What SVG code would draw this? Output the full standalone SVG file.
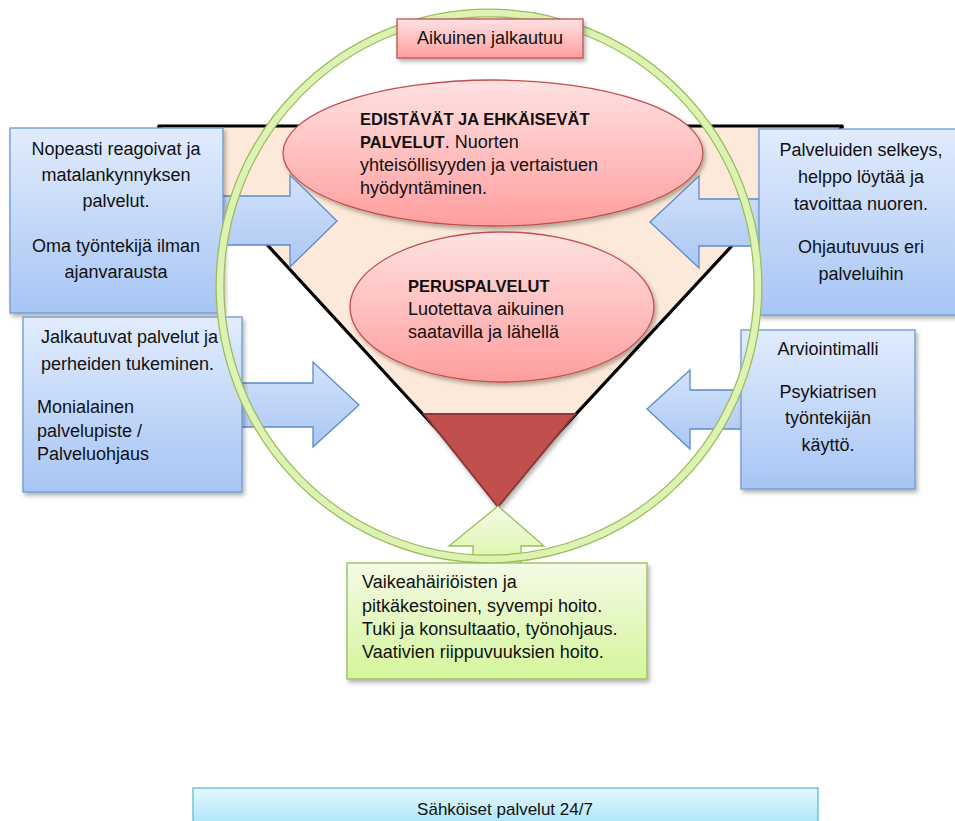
<svg xmlns="http://www.w3.org/2000/svg" width="955" height="821" viewBox="0 0 955 821">
<defs>
<linearGradient id="gBlue" x1="0" y1="0" x2="0" y2="1"><stop offset="0" stop-color="#e1ecfd"/><stop offset="1" stop-color="#a7c5f4"/></linearGradient>
<linearGradient id="gArrow" x1="0" y1="0" x2="0" y2="1"><stop offset="0" stop-color="#d3e2fb"/><stop offset="1" stop-color="#abc7f3"/></linearGradient>
<linearGradient id="gPink" x1="0" y1="0" x2="0" y2="1"><stop offset="0" stop-color="#ffe2e2"/><stop offset="1" stop-color="#ff9e9e"/></linearGradient>
<linearGradient id="gGreen" x1="0" y1="0" x2="0" y2="1"><stop offset="0" stop-color="#f4fbe6"/><stop offset="1" stop-color="#d4f59c"/></linearGradient>
<linearGradient id="gCyan" x1="0" y1="0" x2="0" y2="1"><stop offset="0" stop-color="#e6f8fe"/><stop offset="1" stop-color="#a6e3f8"/></linearGradient>
<filter id="sh" x="-10%" y="-10%" width="130%" height="130%"><feDropShadow dx="2" dy="3" stdDeviation="2" flood-color="#000" flood-opacity="0.3"/></filter>
</defs>
<style>
text{font-family:"Liberation Sans",Arial,sans-serif;font-size:18px;fill:#111}
.c{text-anchor:middle}
.b{font-weight:bold;font-size:16.5px}
.box{fill:url(#gBlue);stroke:#6f98cf;stroke-width:1.3}
.arr{fill:url(#gArrow);stroke:#5b8bc8;stroke-width:1.3}
.ell{fill:url(#gPink);stroke:#c0504d;stroke-width:1.3}
.grn{fill:url(#gGreen);stroke:#9bbb59;stroke-width:1.3}
</style>
<rect width="955" height="821" fill="#fff"/>
<g id="pyramid">
<polygon points="158,126 843,126 499,497" fill="#fde9d9" stroke="#000" stroke-width="3.2" stroke-linejoin="bevel"/>
<polygon points="424,414 575,414 498,507" fill="#c0504d" stroke="#8c3836" stroke-width="2" filter="url(#sh)"/>
</g>
<g id="ellipse-edistavat">
<ellipse cx="493" cy="153" rx="210" ry="73" class="ell" filter="url(#sh)"/>
<text x="360" y="125" class="b">EDISTÄVÄT JA EHKÄISEVÄT</text>
<text x="360" y="148"><tspan class="b">PALVELUT</tspan>. Nuorten</text>
<text x="360" y="171">yhteisöllisyyden ja vertaistuen</text>
<text x="360" y="194">hyödyntäminen.</text>
</g>
<g id="ellipse-perus">
<ellipse cx="502" cy="307" rx="152" ry="75" class="ell" filter="url(#sh)"/>
<text x="408" y="292" class="b">PERUSPALVELUT</text>
<text x="408" y="315">Luotettava aikuinen</text>
<text x="408" y="338">saatavilla ja lähellä</text>
</g>
<g id="connectors">
<path class="arr" d="M200,196 H290 V175 L337,221 L290,267 V245 H200 Z"/>
<path class="arr" d="M790,199 H699 V176 L650,222 L699,268 V246 H790 Z"/>
<path class="arr" d="M220,383 H313 V362 L359,405 L313,447 V427 H220 Z"/>
<path class="arr" d="M760,390 H690 V370 L647,409 L690,449 V429 H760 Z"/>
<path class="grn" d="M473,575 V546 H449 L498,506 L544,546 H521 V575 Z"/>
</g>
<g id="box-topleft">
<rect x="10" y="128" width="213" height="185" class="box" filter="url(#sh)"/>
<text x="116" y="155" class="c">Nopeasti reagoivat ja</text>
<text x="116" y="181" class="c">matalankynnyksen</text>
<text x="116" y="207" class="c">palvelut.</text>
<text x="116" y="252" class="c">Oma työntekijä ilman</text>
<text x="116" y="278" class="c">ajanvarausta</text>
</g>
<g id="box-topright">
<rect x="759" y="129" width="210" height="186" class="box" filter="url(#sh)"/>
<text x="861" y="156" class="c">Palveluiden selkeys,</text>
<text x="861" y="183" class="c">helppo löytää ja</text>
<text x="861" y="210" class="c">tavoittaa nuoren.</text>
<text x="861" y="253" class="c">Ohjautuvuus eri</text>
<text x="861" y="280" class="c">palveluihin</text>
</g>
<g id="box-bottomleft">
<rect x="23" y="317" width="219" height="175" class="box" filter="url(#sh)"/>
<text x="41" y="343">Jalkautuvat palvelut ja</text>
<text x="41" y="370">perheiden tukeminen.</text>
<text x="37" y="413">Monialainen</text>
<text x="37" y="437">palvelupiste /</text>
<text x="37" y="460">Palveluohjaus</text>
</g>
<g id="box-bottomright">
<rect x="741" y="330" width="174" height="159" class="box" filter="url(#sh)"/>
<text x="828" y="355" class="c">Arviointimalli</text>
<text x="828" y="398" class="c">Psykiatrisen</text>
<text x="828" y="424" class="c">työntekijän</text>
<text x="828" y="451" class="c">käyttö.</text>
</g>
<g id="box-green">
<rect x="347" y="563" width="300" height="116" class="grn" filter="url(#sh)"/>
<text x="362" y="588">Vaikeahäiriöisten ja</text>
<text x="362" y="612">pitkäkestoinen, syvempi hoito.</text>
<text x="362" y="635">Tuki ja konsultaatio, työnohjaus.</text>
<text x="362" y="658">Vaativien riippuvuuksien hoito.</text>
</g>
<g id="ring">
<ellipse cx="489" cy="286" rx="269" ry="273" fill="none" stroke="#9bbb59" stroke-width="9"/>
<ellipse cx="489" cy="286" rx="269" ry="273" fill="none" stroke="#dcf3b4" stroke-width="6.5"/>
</g>
<g id="box-aikuinen">
<rect x="397" y="19" width="186" height="39" fill="url(#gPink)" stroke="#c0504d" stroke-width="1.3" filter="url(#sh)"/>
<text x="490" y="44" class="c">Aikuinen jalkautuu</text>
</g>
<g id="box-sahkoiset">
<rect x="193" y="788" width="625" height="40" fill="url(#gCyan)" stroke="#5cbad6" stroke-width="1.3"/>
<text x="505" y="815" class="c" style="font-size:17px">Sähköiset palvelut 24/7</text>
</g>
</svg>
